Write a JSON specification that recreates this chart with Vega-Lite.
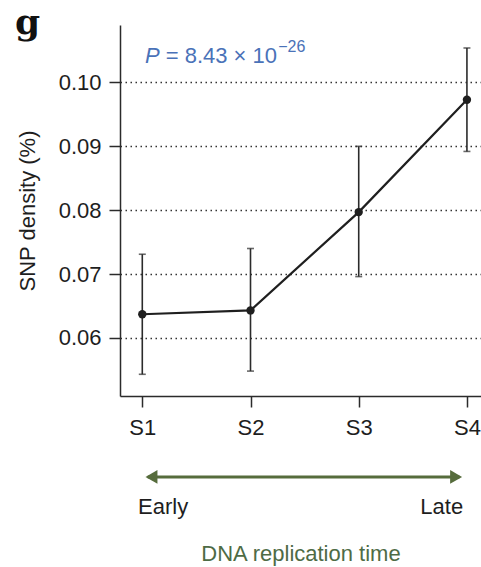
{
  "$schema": "https://vega.github.io/schema/vega-lite/v6.json",
  "autosize": "none",
  "width": 361,
  "height": 371,
  "padding": {"left": 120, "top": 25, "right": 0, "bottom": 171},
  "background": "white",
  "config": {
    "font": "Liberation Sans",
    "view": {"stroke": null},
    "axis": {
      "domainColor": "#2b2b2b",
      "domainWidth": 1.5,
      "tickColor": "#2b2b2b",
      "tickWidth": 1.5,
      "tickSize": 11,
      "labelFont": "Liberation Sans",
      "labelFontSize": 22,
      "labelColor": "#1e1e1e",
      "titleFont": "Liberation Sans",
      "titleFontSize": 22,
      "titleFontWeight": "normal"
    }
  },
  "datasets": {
    "snp": [
      {"stage": 1, "density": 0.0637, "low": 0.0543, "high": 0.0731},
      {"stage": 2, "density": 0.0643, "low": 0.0548, "high": 0.0740},
      {"stage": 3, "density": 0.0797, "low": 0.0696, "high": 0.0900},
      {"stage": 4, "density": 0.0973, "low": 0.0892, "high": 0.1054}
    ]
  },
  "layer": [
    {
      "data": {"name": "snp"},
      "mark": {"type": "rule", "color": "#2b2b2b", "strokeWidth": 1.6},
      "encoding": {
        "x": {
          "field": "stage",
          "type": "quantitative",
          "scale": {"domain": [0.794, 4.13], "nice": false, "zero": false},
          "axis": {
            "values": [1, 2, 3, 4],
            "labelExpr": "'S' + datum.value",
            "grid": false,
            "labelPadding": 10,
            "title": "DNA replication time",
            "titleColor": "#4e6b45",
            "titlePadding": 105
          }
        },
        "y": {
          "field": "low",
          "type": "quantitative",
          "scale": {"domain": [0.0509, 0.109], "nice": false, "zero": false},
          "axis": {
            "values": [0.06, 0.07, 0.08, 0.09, 0.1],
            "format": ".2f",
            "grid": true,
            "gridColor": "#333333",
            "gridWidth": 1.5,
            "gridDash": [1.5, 3.5],
            "labelPadding": 8,
            "title": "SNP density (%)",
            "titleColor": "#1e1e1e",
            "titlePadding": 19
          }
        },
        "y2": {"field": "high"}
      }
    },
    {
      "data": {"name": "snp"},
      "mark": {"type": "tick", "orient": "horizontal", "color": "#2b2b2b", "size": 7, "thickness": 1.6},
      "encoding": {
        "x": {"field": "stage", "type": "quantitative"},
        "y": {"field": "low", "type": "quantitative"}
      }
    },
    {
      "data": {"name": "snp"},
      "mark": {"type": "tick", "orient": "horizontal", "color": "#2b2b2b", "size": 7, "thickness": 1.6},
      "encoding": {
        "x": {"field": "stage", "type": "quantitative"},
        "y": {"field": "high", "type": "quantitative"}
      }
    },
    {
      "data": {"name": "snp"},
      "mark": {"type": "line", "color": "#1f1f1f", "strokeWidth": 2.2},
      "encoding": {
        "x": {"field": "stage", "type": "quantitative"},
        "y": {"field": "density", "type": "quantitative"}
      }
    },
    {
      "data": {"name": "snp"},
      "mark": {"type": "point", "filled": true, "color": "#1f1f1f", "opacity": 1, "size": 70},
      "encoding": {
        "x": {"field": "stage", "type": "quantitative"},
        "y": {"field": "density", "type": "quantitative"}
      }
    },
    {
      "data": {"values": [{"x": 1.05, "x2": 3.93, "y": 0.03823}]},
      "mark": {"type": "rule", "color": "#566c3c", "strokeWidth": 3, "clip": false},
      "encoding": {
        "x": {"field": "x", "type": "quantitative"},
        "x2": {"field": "x2"},
        "y": {"field": "y", "type": "quantitative"}
      }
    },
    {
      "data": {"values": [{"x": 1.085, "y": 0.03823, "dir": "triangle-left"}, {"x": 3.9, "y": 0.03823, "dir": "triangle-right"}]},
      "mark": {"type": "point", "filled": true, "color": "#566c3c", "opacity": 1, "size": 190, "clip": false},
      "encoding": {
        "x": {"field": "x", "type": "quantitative"},
        "y": {"field": "y", "type": "quantitative"},
        "shape": {"field": "dir", "type": "nominal", "scale": null}
      }
    },
    {
      "data": {"values": [{"x": 0.961, "y": 0.03348, "label": "Early"}]},
      "mark": {"type": "text", "align": "left", "baseline": "middle", "fontSize": 22, "color": "#1e1e1e", "clip": false},
      "encoding": {
        "x": {"field": "x", "type": "quantitative"},
        "y": {"field": "y", "type": "quantitative"},
        "text": {"field": "label"}
      }
    },
    {
      "data": {"values": [{"x": 3.965, "y": 0.03348, "label": "Late"}]},
      "mark": {"type": "text", "align": "right", "baseline": "middle", "fontSize": 22, "color": "#1e1e1e", "clip": false},
      "encoding": {
        "x": {"field": "x", "type": "quantitative"},
        "y": {"field": "y", "type": "quantitative"},
        "text": {"field": "label"}
      }
    },
    {
      "data": {"values": [{"x": 1.025, "y": 0.10302, "label": "P"}]},
      "mark": {"type": "text", "align": "left", "baseline": "alphabetic", "fontSize": 22, "fontStyle": "italic", "color": "#4a72b8", "clip": false},
      "encoding": {
        "x": {"field": "x", "type": "quantitative"},
        "y": {"field": "y", "type": "quantitative"},
        "text": {"field": "label"}
      }
    },
    {
      "data": {"values": [{"x": 2.245, "y": 0.10302, "label": "= 8.43 × 10"}]},
      "mark": {"type": "text", "align": "right", "baseline": "alphabetic", "fontSize": 22, "color": "#4a72b8", "clip": false},
      "encoding": {
        "x": {"field": "x", "type": "quantitative"},
        "y": {"field": "y", "type": "quantitative"},
        "text": {"field": "label"}
      }
    },
    {
      "data": {"values": [{"x": 2.256, "y": 0.10475, "label": "−26"}]},
      "mark": {"type": "text", "align": "left", "baseline": "alphabetic", "fontSize": 16, "color": "#4a72b8", "clip": false},
      "encoding": {
        "x": {"field": "x", "type": "quantitative"},
        "y": {"field": "y", "type": "quantitative"},
        "text": {"field": "label"}
      }
    },
    {
      "data": {"values": [{"x": -0.177, "y": 0.10762, "label": "g"}]},
      "mark": {"type": "text", "align": "left", "baseline": "alphabetic", "font": "DejaVu Serif", "fontWeight": "bold", "fontSize": 36, "color": "#111111", "clip": false},
      "encoding": {
        "x": {"field": "x", "type": "quantitative"},
        "y": {"field": "y", "type": "quantitative"},
        "text": {"field": "label"}
      }
    }
  ]
}
